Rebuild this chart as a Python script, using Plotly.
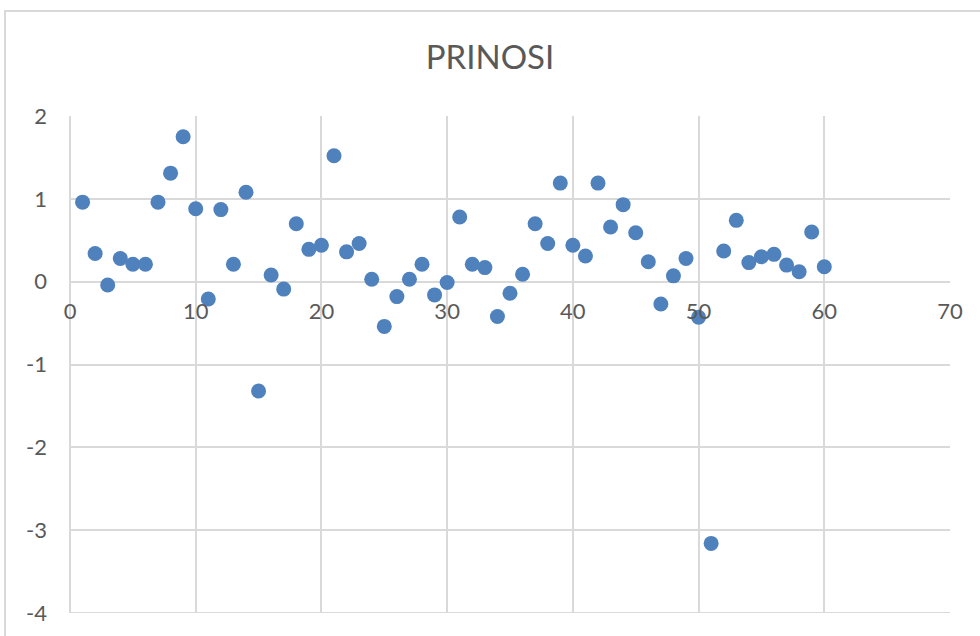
import plotly.graph_objects as go

# Data
x_index = list(range(1, 61))
prinosi = [
    0.96, 0.34, -0.04, 0.28, 0.21, 0.21, 0.96, 1.31, 1.75, 0.88,
    -0.21, 0.87, 0.21, 1.08, -1.32, 0.08, -0.09, 0.70, 0.39, 0.44,
    1.52, 0.36, 0.46, 0.03, -0.54, -0.18, 0.03, 0.21, -0.16, -0.01,
    0.78, 0.21, 0.17, -0.42, -0.14, 0.09, 0.70, 0.46, 1.19, 0.44,
    0.31, 1.19, 0.66, 0.93, 0.59, 0.24, -0.27, 0.07, 0.28, -0.43,
    -3.16, 0.37, 0.74, 0.23, 0.30, 0.33, 0.20, 0.12, 0.60, 0.18,
]
x_ticks = [0, 10, 20, 30, 40, 50, 60, 70]
x_labels = ["0", "10", "20", "30", "40", "50", "60", "70"]
y_ticks = [-4, -3, -2, -1, 0, 1, 2]
y_labels = ["-4", "-3", "-2", "-1", "0", "1", "2"]

GRID = "#d9d9d9"
TXT = "#595959"
FONT = "Lato"

fig = go.Figure()
fig.add_trace(go.Scatter(
    x=x_index, y=prinosi, mode="markers",
    marker=dict(size=15, color="#4F81BD", line=dict(width=0)),
    showlegend=False, hoverinfo="x+y",
))

L, R, T, B = 70, 30, 116, 23
W, H = 980, 636
pw = W - L - R
ph = H - T - B

fig.update_layout(
    width=W, height=H,
    margin=dict(l=L, r=R, t=T, b=B, pad=0),
    paper_bgcolor="white", plot_bgcolor="white",
    title=dict(text="PRINOSI", x=0.5, xanchor="center",
               y=1 - 57 / H, yanchor="middle",
               font=dict(family=FONT, size=33, color=TXT)),
    xaxis=dict(
        range=[0, 70], tickvals=x_ticks, ticktext=x_labels,
        showgrid=True, gridcolor=GRID, gridwidth=2,
        zeroline=True, zerolinecolor=GRID, zerolinewidth=2,
        showline=False, ticks="", anchor="free", position=4 / 6,
        tickfont=dict(family=FONT, size=22, color=TXT),
        ticklabelstandoff=14, automargin=False,
    ),
    yaxis=dict(
        range=[-4, 2], tickvals=y_ticks, ticktext=y_labels,
        showgrid=True, gridcolor=GRID, gridwidth=2,
        zeroline=True, zerolinecolor=GRID, zerolinewidth=2,
        showline=False, ticks="", domain=[0, 1],
        tickfont=dict(family=FONT, size=22, color=TXT),
        ticklabelstandoff=22, automargin=False,
    ),
    shapes=[
        dict(
            type="rect", xref="paper", yref="paper",
            x0=(5 - L) / pw, x1=1.2, y0=-0.2, y1=(H - B - 11) / ph,
            line=dict(color=GRID, width=2), fillcolor="rgba(0,0,0,0)", layer="below",
        ),
        dict(
            type="line", xref="paper", yref="y",
            x0=0, x1=1, y0=y_ticks[0], y1=y_ticks[0],
            line=dict(color=GRID, width=2), layer="below",
        ),
    ],
)

fig.write_html(
    "out.html",
    config={"displayModeBar": False},
    post_script="document.body.style.margin='0';document.body.style.padding='0';",
)
